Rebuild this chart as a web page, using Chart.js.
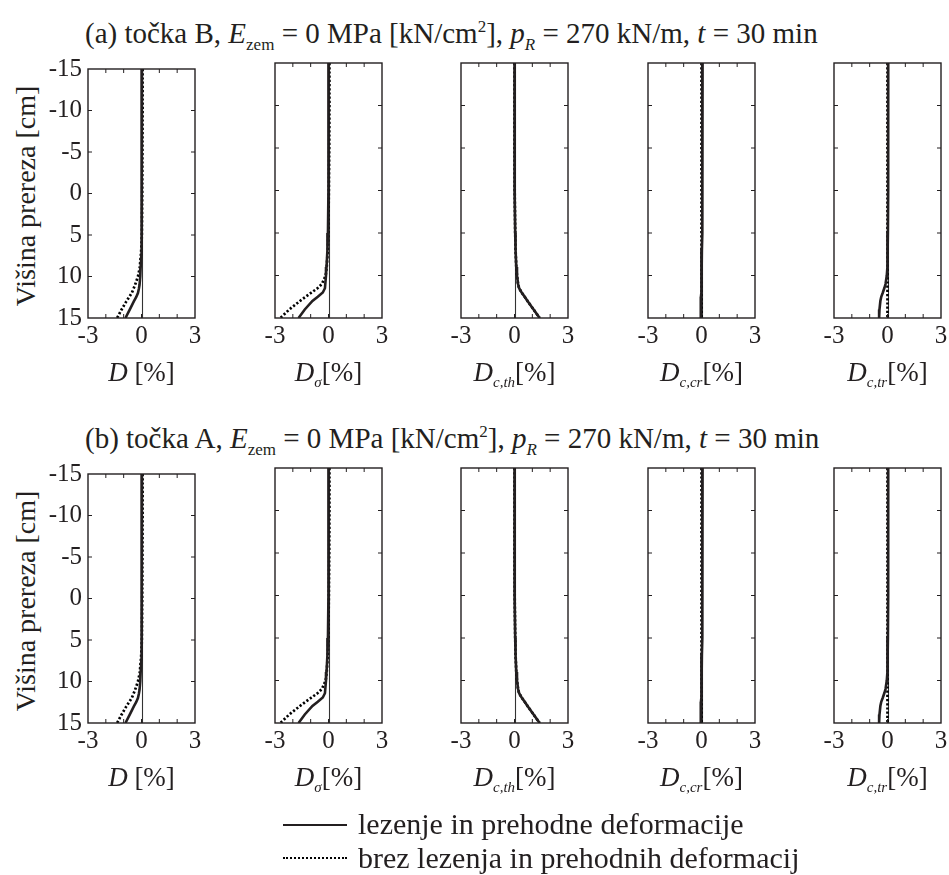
<!DOCTYPE html>
<html>
<head>
<meta charset="utf-8">
<script src="https://cdn.jsdelivr.net/npm/chart.js@4.4.1/dist/chart.umd.min.js"></script>
<style>
    body { margin: 0; background: #fff; }
    #page { position: relative; width: 949px; height: 875px; font-family: 'Liberation Serif', 'Times New Roman', serif; color: #231f20; }
    canvas { position: absolute; }
    .txt { position: absolute; font-size: 29px; line-height: 32px; white-space: nowrap; }
    .txt sub, .txt sup { font-size: 17px; line-height: 0; }
    .xt { width: 160px; text-align: center; font-size: 27px; }
    .xt sub { font-size: 15px; }
    .ytitle { transform: rotate(-90deg); transform-origin: center center; width: 300px; text-align: center; font-size: 28px; }
    .leg { font-size: 30px; }
    .legline { position: absolute; left: 283px; width: 64px; }
</style>
</head>
<body>
<div id="page"></div>
<script>
// heights through the section [cm] (y axis, shared by every curve)
const heights = [-15, -10, -5, 0, 5, 7, 9, 10, 11, 11.5, 12, 12.5, 13, 14, 15];
const xTicks = [-3, 0, 3];
const yTicks = [-15, -10, -5, 0, 5, 10, 15];
const xMinorTicks = [-2, -1, 0, 1, 2];
const yMinorTicks = [-10, -5, 0, 5, 10];

// D [%]
const dSolid  = [0.02, 0.02, 0.02, 0.01, 0, -0.02, -0.05, -0.07, -0.11, -0.15, -0.2, -0.3, -0.43, -0.66, -0.9];
const dDotted = [0.06, 0.06, 0.05, 0.04, 0.02, -0.02, -0.1, -0.2, -0.36, -0.45, -0.55, -0.7, -0.85, -1.12, -1.37];
// D_sigma [%]
const dSigSolid  = [0, 0, 0, -0.01, -0.03, -0.06, -0.11, -0.14, -0.18, -0.2, -0.32, -0.6, -0.9, -1.33, -1.68];
const dSigDotted = [0.05, 0.05, 0.04, 0.02, -0.01, -0.04, -0.1, -0.16, -0.37, -0.62, -0.95, -1.28, -1.6, -2.2, -2.7];
// D_c,th [%]
const dThSolid  = [0, 0, 0, 0.01, 0.04, 0.06, 0.1, 0.14, 0.2, 0.26, 0.4, 0.57, 0.73, 1.07, 1.41];
const dThDotted = [0, 0, 0, 0.01, 0.04, 0.06, 0.1, 0.14, 0.2, 0.26, 0.4, 0.57, 0.73, 1.07, 1.41];
// D_c,cr [%]
const dCrSolid  = [0.06, 0.06, 0.05, 0.04, 0.03, 0.02, 0.01, 0, -0.01, -0.01, -0.02, -0.03, -0.03, -0.04, -0.05];
const dCrDotted = [0, 0, 0, 0, 0, 0, 0, 0, 0, 0, 0, 0, 0, 0, 0];
// D_c,tr [%]
const dTrSolid  = [0.04, 0.04, 0.04, 0.03, 0.02, 0.01, -0.02, -0.04, -0.11, -0.18, -0.26, -0.35, -0.4, -0.45, -0.47];
const dTrDotted = [0, 0, 0, 0, 0, 0, 0, 0, 0, 0, 0, 0, 0, 0, 0];

// both rows (tocka B and tocka A) read the same off the picture
const panels = [
    { solid: dSolid, dotted: dDotted, title: '<i>D</i> [%]' },
    { solid: dSigSolid, dotted: dSigDotted, title: '<i>D<sub>σ</sub></i>[%]' },
    { solid: dThSolid, dotted: dThDotted, title: '<i>D<sub>c,th</sub></i>[%]' },
    { solid: dCrSolid, dotted: dCrDotted, title: '<i>D<sub>c,cr</sub></i>[%]' },
    { solid: dTrSolid, dotted: dTrDotted, title: '<i>D<sub>c,tr</sub></i>[%]' }
];
const rowTitles = [
    '(a) točka B, <i>E</i><sub>zem</sub> = 0 MPa [kN/cm<sup>2</sup>], <i>p<sub>R</sub></i> = 270 kN/m, <i>t</i> = 30 min',
    '(b) točka A, <i>E</i><sub>zem</sub> = 0 MPa [kN/cm<sup>2</sup>], <i>p<sub>R</sub></i> = 270 kN/m, <i>t</i> = 30 min'
];

const ink = '#231f20';
const plotLefts = [88, 275, 461, 648, 834];
const plotTops = [63, 468];
const plotW = 107, plotH = 255;
const padL = 60, padR = 19, padT = 15, padB = 40;

const page = document.getElementById('page');

function addText(html, cls, left, top) {
    const el = document.createElement('div');
    el.className = 'txt ' + cls;
    el.innerHTML = html;
    el.style.left = left + 'px';
    el.style.top = top + 'px';
    page.appendChild(el);
    return el;
}

const framePlugin = {
    id: 'frame',
    beforeDatasetsDraw(chart) {
        const { ctx, chartArea: a, scales: { x } } = chart;
        const px = Math.round(x.getPixelForValue(0)) + 0.5;
        ctx.save();
        ctx.strokeStyle = '#333';
        ctx.lineWidth = 1.1;
        ctx.beginPath();
        ctx.moveTo(px, a.top);
        ctx.lineTo(px, a.bottom);
        ctx.stroke();
        ctx.restore();
    },
    afterDraw(chart) {
        const { ctx, chartArea: a, scales: { x, y } } = chart;
        ctx.save();
        ctx.strokeStyle = ink;
        ctx.lineWidth = 1.4;
        ctx.strokeRect(a.left, a.top, a.width, a.height);
        ctx.lineWidth = 1;
        ctx.beginPath();
        xMinorTicks.forEach(v => {
            const px = x.getPixelForValue(v);
            ctx.moveTo(px, a.bottom); ctx.lineTo(px, a.bottom - 4);
            ctx.moveTo(px, a.top); ctx.lineTo(px, a.top + 4);
        });
        yMinorTicks.forEach(v => {
            const py = y.getPixelForValue(v);
            ctx.moveTo(a.left, py); ctx.lineTo(a.left + 4, py);
            ctx.moveTo(a.right, py); ctx.lineTo(a.right - 4, py);
        });
        ctx.stroke();
        ctx.restore();
    }
};

const tickFont = { family: "'Liberation Serif', 'Times New Roman', serif", size: 25 };

plotTops.forEach((top, r) => {
    addText(rowTitles[r], '', 85, top - 46);
    addText('Višina prereza [cm]', 'ytitle', 26 - 150, top + plotH / 2 - 11);

    panels.forEach((p, i) => {
        const left = plotLefts[i];
        const canvas = document.createElement('canvas');
        canvas.width = padL + plotW + padR;
        canvas.height = padT + plotH + padB;
        canvas.style.left = (left - padL) + 'px';
        canvas.style.top = (top - padT) + 'px';
        page.appendChild(canvas);

        new Chart(canvas.getContext('2d'), {
            type: 'scatter',
            data: {
                datasets: [{
                    label: 'lezenje in prehodne deformacije',
                    data: heights.map((h, k) => ({ x: p.solid[k], y: h })),
                    showLine: true,
                    borderColor: ink,
                    borderWidth: 2.6,
                    pointRadius: 0
                }, {
                    label: 'brez lezenja in prehodnih deformacij',
                    data: heights.map((h, k) => ({ x: p.dotted[k], y: h })),
                    showLine: true,
                    borderColor: '#000',
                    borderWidth: 2.7,
                    borderDash: [2.2, 2],
                    pointRadius: 0
                }]
            },
            options: {
                responsive: false,
                animation: false,
                layout: { padding: { left: 0, right: padR, top: padT, bottom: 0 } },
                plugins: {
                    legend: { display: false },
                    tooltip: { enabled: false }
                },
                scales: {
                    x: {
                        type: 'linear',
                        min: -3,
                        max: 3,
                        afterBuildTicks: s => { s.ticks = xTicks.map(v => ({ value: v })); },
                        afterFit: s => { s.height = padB; },
                        grid: { display: false, drawTicks: false },
                        border: { display: false },
                        ticks: { font: tickFont, color: ink, padding: 3, maxRotation: 0, autoSkip: false }
                    },
                    y: {
                        type: 'linear',
                        reverse: true,
                        min: -15,
                        max: 15,
                        afterBuildTicks: s => { s.ticks = yTicks.map(v => ({ value: v })); },
                        afterFit: s => { s.width = padL; },
                        grid: { display: false, drawTicks: false },
                        border: { display: false },
                        ticks: { display: i === 0, font: tickFont, color: ink, padding: 6, autoSkip: false }
                    }
                }
            },
            plugins: [framePlugin]
        });

        addText(p.title, 'xt', left + plotW / 2 - 80, top + plotH + 38);
    });
});

// legend
const l1 = document.createElement('div');
l1.className = 'legline';
l1.style.top = '824px';
l1.style.borderTop = '2.6px solid ' + ink;
page.appendChild(l1);
const l2 = document.createElement('div');
l2.className = 'legline';
l2.style.top = '857px';
l2.style.borderTop = '2.5px dotted #000';
page.appendChild(l2);
addText('lezenje in prehodne deformacije', 'leg', 358, 808);
addText('brez lezenja in prehodnih deformacij', 'leg', 358, 842);
</script>
</body>
</html>
